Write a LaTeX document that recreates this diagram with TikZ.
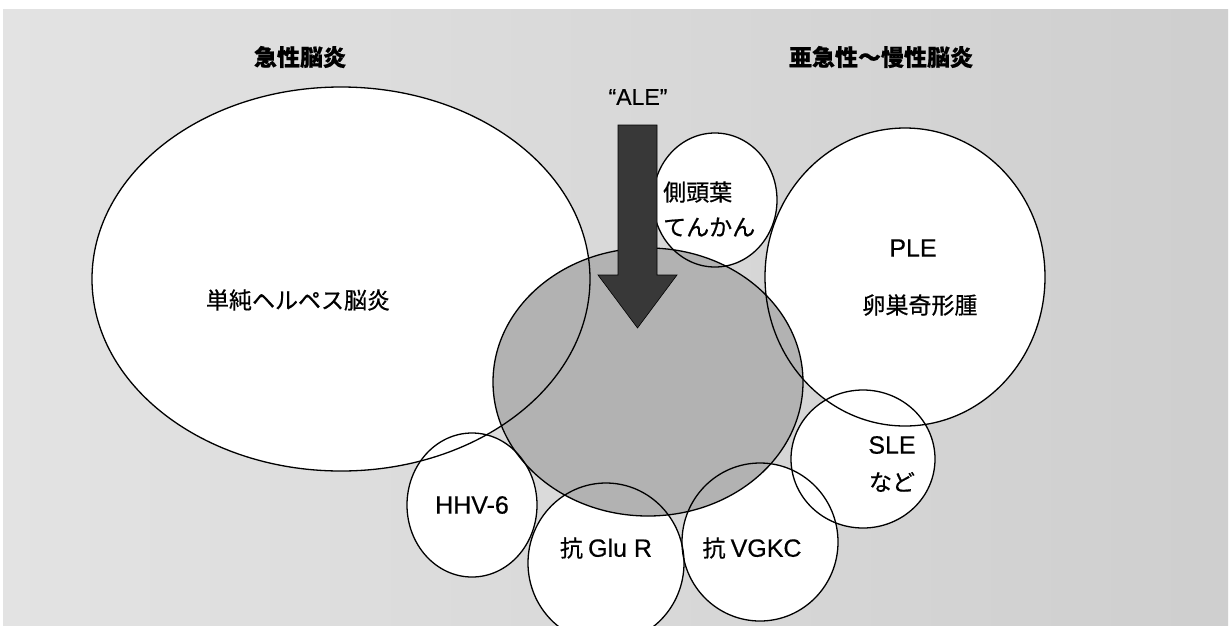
\documentclass[tikz,border=0pt]{standalone}
\usepackage{fontspec}
\newfontfamily\jp{Noto Sans CJK JP}[FakeBold=0.6]
\newfontfamily\lat{Liberation Sans}[FakeBold=0.4]
\newcommand{\latbig}{\lat\fontsize{25}{28}\selectfont}
\usetikzlibrary{shapes.geometric}
\begin{document}
\begin{tikzpicture}[x=1pt,y=-1pt,
  outl/.style={draw=black,line width=1.3pt},
  lbl/.style={font=\jp\fontsize{23}{28}\selectfont, inner sep=0pt, text=black},
  ttl/.style={font=\jp\bfseries\fontsize{23}{28}\selectfont, inner sep=0pt, text=black}]
\useasboundingbox (0,0) rectangle (1231,625);
\fill[white] (0,0) rectangle (1231,625);
\shade[left color=gray!22, right color=gray!38] (3,9) rectangle (1228,625);
% centres
\coordinate (hsvc) at (341,279);
\coordinate (plec) at (905,277);
\coordinate (tmpc) at (715,200);
\coordinate (grc) at (648,382);
\coordinate (hhvc) at (472,505);
\coordinate (gluc) at (606,563);
\coordinate (vgkc) at (760,542);
\coordinate (slec) at (863,459);
% white fills
\fill[white] (hsvc) ellipse [x radius=249, y radius=192];
\fill[white] (plec) ellipse [x radius=140, y radius=149];
\fill[white] (tmpc) ellipse [x radius=62, y radius=67];
\fill[white] (hhvc) ellipse [x radius=65, y radius=72];
\fill[white] (gluc) ellipse [x radius=78, y radius=80];
\fill[white] (vgkc) ellipse [x radius=78, y radius=79];
\fill[white] (slec) ellipse [x radius=72, y radius=69];
% grey circle
\fill[gray!60] (grc) ellipse [x radius=155, y radius=134];
% outlines
\draw[outl] (hsvc) ellipse [x radius=249, y radius=192];
\draw[outl] (plec) ellipse [x radius=140, y radius=149];
\draw[outl] (tmpc) ellipse [x radius=62, y radius=67];
\draw[outl] (grc) ellipse [x radius=155, y radius=134];
\draw[outl] (hhvc) ellipse [x radius=65, y radius=72];
\draw[outl] (gluc) ellipse [x radius=78, y radius=80];
\draw[outl] (vgkc) ellipse [x radius=78, y radius=79];
\draw[outl] (slec) ellipse [x radius=72, y radius=69];
% arrow
\fill[black!78, draw=black, line width=0.6pt] (618,125) -- (657,125) -- (657,275) -- (677,275) -- (637.5,328) -- (598,275) -- (618,275) -- cycle;
% texts
\node[ttl] (t1) at (300,57) {急性脳炎};
\node[ttl] (t2) at (881,57) {亜急性〜慢性脳炎};
\node[lbl] (ale) at (638,97) {{\lat “ALE”}};
\node[lbl] (hsv) at (298,300) {単純ヘルペス脳炎};
\node[lbl, anchor=west] (tmp1) at (663,192) {側頭葉};
\node[lbl, anchor=west] (tmp2) at (663,227) {てんかん};
\node[lbl] (ple) at (913,248) {{\latbig PLE}};
\node[lbl] (ov) at (920,305) {卵巣奇形腫};
\node[lbl] (hhv) at (472,505) {{\latbig HHV-6}};
\node[lbl] (glu) at (606,548) {抗 {\latbig Glu R}};
\node[lbl] (vgk) at (752,548) {抗 {\latbig VGKC}};
\node[lbl] (sle) at (892,445) {{\latbig SLE}};
\node[lbl] (nado) at (892,482) {など};
\end{tikzpicture}
\end{document}
